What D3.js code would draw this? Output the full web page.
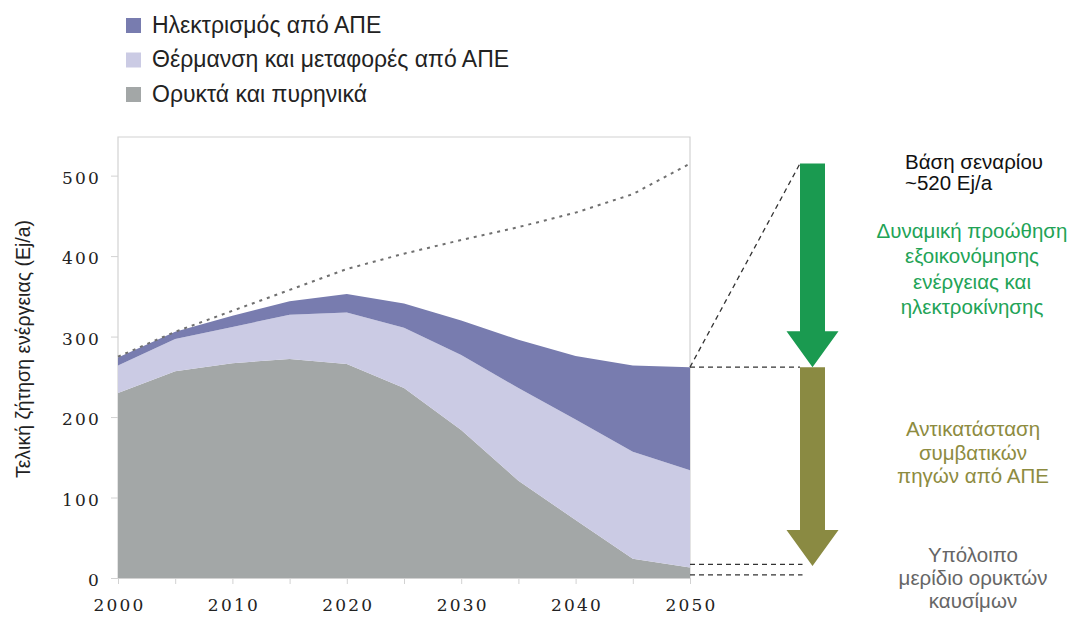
<!DOCTYPE html>
<html><head><meta charset="utf-8">
<script src="https://cdn.jsdelivr.net/npm/d3@7"></script>
<style>
html,body{margin:0;padding:0;background:#fff;}
svg{display:block;}
</style></head>
<body>
<svg id="chart" width="1074" height="624"></svg>
<script>
// ---- data ----
const years = [2000, 2005, 2010, 2015, 2020, 2025, 2030, 2035, 2040, 2045, 2050];
const fossilNuclear = [230, 257, 267, 272, 266, 236, 184, 121, 72, 24, 13];
const heatTransportRES = [34, 40, 45, 55, 64, 75, 93, 115, 125, 133, 121];
const electricityRES = [10, 9, 14, 17, 23, 30, 43, 60, 79, 107, 128];
const baselineScenario = [275, 306, 332, 358, 384, 403, 420, 436, 454, 477, 515];
const yTicks = [0, 100, 200, 300, 400, 500];
const xTickLabels = [2000, 2010, 2020, 2030, 2040, 2050];
const xTickMarks = [2000, 2005, 2010, 2015, 2020, 2025, 2030, 2035, 2040, 2045, 2050];
const seriesKeys = ["fossil", "heat", "elec"];
const legendLabels = ["Ηλεκτρισμός από ΑΠΕ", "Θέρμανση και μεταφορές από ΑΠΕ", "Ορυκτά και πυρηνικά"];
const yTitle = "Τελική ζήτηση ενέργειας (Ej/a)";
const baseLabel = ["Βάση σεναρίου", "~520 Ej/a"];
const efficiencyLabel = ["Δυναμική προώθηση", "εξοικονόμησης", "ενέργειας και", "ηλεκτροκίνησης"];
const replaceLabel = ["Αντικατάσταση", "συμβατικών", "πηγών από ΑΠΕ"];
const remainLabel = ["Υπόλοιπο", "μερίδιο ορυκτών", "καυσίμων"];
const remainLevels = [17, 4];

// ---- styles ----
const colors = {fossil: "#a3a7a7", heat: "#cbcbe4", elec: "#787caf"};
const green = "#1a9a50", olive = "#8a8a42";

const table = years.map((yr, i) => ({year: yr, fossil: fossilNuclear[i], heat: heatTransportRES[i], elec: electricityRES[i]}));

const svg = d3.select("#chart");
const x = d3.scaleLinear().domain([2000, 2050]).range([118, 690]);
const y = d3.scaleLinear().domain([0, 548]).range([578, 137]);

// frame
const frame = "#d2d2d2";
svg.append("path").attr("d", `M${x(2000)},${y(0)}V${y(548)}H${x(2050)}V${y(0)}`)
  .attr("fill", "none").attr("stroke", frame).attr("stroke-width", 1.2);

// stacked areas
const stack = d3.stack().keys(seriesKeys)(table);
const area = d3.area().x(d => x(d.data.year)).y0(d => y(d[0])).y1(d => y(d[1]));
svg.append("g").selectAll("path").data(stack).join("path")
  .attr("d", area).attr("fill", d => colors[d.key]);

// baseline dotted
const line = d3.line().x((d, i) => x(years[i])).y(d => y(d));
svg.append("path").datum(baselineScenario).attr("d", line)
  .attr("fill", "none").attr("stroke", "#707070").attr("stroke-width", 2)
  .attr("stroke-dasharray", "3,5");

// axes
const tickFont = g => g.attr("font-family", "DejaVu Serif").attr("font-size", 17).attr("fill", "#222").attr("letter-spacing", 2.2);
const yAxis = d3.axisLeft(y).tickValues(yTicks).tickSize(7).tickPadding(10).tickFormat(d3.format("d"));
const gy = svg.append("g").attr("transform", `translate(${x(2000)},0)`).call(yAxis);
gy.select(".domain").remove();
gy.selectAll("line").attr("stroke", frame);
gy.selectAll("text").call(tickFont).attr("dy", "0.45em");

const xAxisMarks = d3.axisBottom(x).tickValues(xTickMarks).tickSize(6).tickFormat("");
const gx = svg.append("g").attr("transform", `translate(0,${y(0)})`).call(xAxisMarks);
gx.select(".domain").attr("stroke", frame);
gx.selectAll("line").attr("stroke", frame);
const xAxisLabels = d3.axisBottom(x).tickValues(xTickLabels).tickSize(0).tickPadding(21).tickFormat(d3.format("d"));
const gx2 = svg.append("g").attr("transform", `translate(1,${y(0)})`).call(xAxisLabels);
gx2.select(".domain").remove();
gx2.selectAll("text").call(tickFont);

// y title
svg.append("text").attr("transform", `translate(30,349) rotate(-90)`)
  .attr("text-anchor", "middle").attr("font-family", "Liberation Sans").attr("font-size", 19.5).attr("fill", "#222")
  .text(yTitle);

// legend
const legendColors = [colors.elec, colors.heat, colors.fossil];
const lg = svg.append("g");
legendLabels.forEach((t, i) => {
  lg.append("rect").attr("x", 126).attr("y", 18 + i * 34.5).attr("width", 15).attr("height", 15).attr("fill", legendColors[i]);
  lg.append("text").attr("x", 152).attr("y", 32.5 + i * 34.5).attr("font-family", "Liberation Sans").attr("font-size", 23).attr("fill", "#222").text(t);
});

// annotations
const total2050 = fossilNuclear[10] + heatTransportRES[10] + electricityRES[10];
const base2050 = baselineScenario[10];
const ax = 812.5, shaftHalf = 12.5, headHalf = 26, headLen = 36;
const dash = g => g.attr("fill", "none").attr("stroke", "#333").attr("stroke-width", 1.3).attr("stroke-dasharray", "5,4");

svg.append("path").attr("d", `M${x(2050)},${y(total2050)}L${ax - shaftHalf},${y(base2050)}`).call(dash);
svg.append("path").attr("d", `M${x(2050)},${y(total2050)}H${ax - shaftHalf}`).call(dash);
remainLevels.forEach(v => svg.append("path").attr("d", `M${x(2050)},${y(v)}H${ax - 10}`).call(dash));

function arrow(top, tip, color) {
  const hs = tip - headLen;
  svg.append("path").attr("d",
    `M${ax - shaftHalf},${top}H${ax + shaftHalf}V${hs}H${ax + headHalf}L${ax},${tip}L${ax - headHalf},${hs}H${ax - shaftHalf}Z`)
    .attr("fill", color);
}
arrow(y(base2050), y(total2050), green);
arrow(y(total2050), y(fossilNuclear[10] + 2), olive);

function block(lines, xPos, y0, step, anchor, color) {
  const t = svg.append("text").attr("font-family", "Liberation Sans").attr("font-size", 20.5).attr("fill", color).attr("text-anchor", anchor);
  lines.forEach((l, i) => t.append("tspan").attr("x", xPos).attr("y", y0 + i * step).text(l));
}
block(baseLabel, 905, 169, 21, "start", "#111");
block(efficiencyLabel, 972, 238, 25.3, "middle", "#22a356");
block(replaceLabel, 973, 436, 23.6, "middle", "#8d8b40");
block(remainLabel, 973, 562, 23, "middle", "#666");
</script>
</body></html>
